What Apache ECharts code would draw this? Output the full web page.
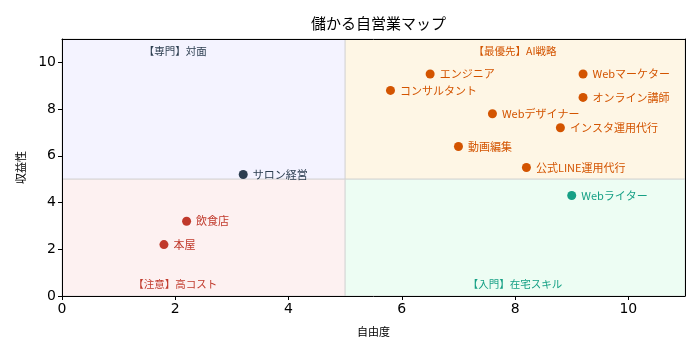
<!DOCTYPE html>
<html><head><meta charset="utf-8">
<script src="https://cdn.jsdelivr.net/npm/echarts@6/dist/echarts.min.js"></script>
<style>html,body{margin:0;padding:0;background:#fff}#c{width:700px;height:356px}</style>
</head><body><div id="c"></div>
<script>
const names = ['サロン経営','飲食店','本屋','Webライター','エンジニア','コンサルタント','Webマーケター','オンライン講師','Webデザイナー','インスタ運用代行','動画編集','公式LINE運用代行'];
const freedom = [3.2,2.2,1.8,9.0,6.5,5.8,9.2,9.2,7.6,8.8,7.0,8.2];
const profit = [5.2,3.2,2.2,4.3,9.5,8.8,9.5,8.5,7.8,7.2,6.4,5.5];
const groups = ['対面','注意','注意','入門','AI','AI','AI','AI','AI','AI','AI','AI'];
const groupOrder = ['対面','注意','入門','AI'];
const groupColors = {'対面':'#2c3e50','注意':'#c0392b','入門':'#16a085','AI':'#d35400'};
const quadLabels = ['【専門】対面','【最優先】AI戦略','【注意】高コスト','【入門】在宅スキル'];
const quadLabelX = [2,8,2,8];
const quadLabelY = [10.5,10.5,0.5,0.5];
const quadLabelColors = ['#2c3e50','#d35400','#c0392b','#16a085'];
const xTicks = [0,2,4,6,8,10];
const yTicks = [0,2,4,6,8,10];

const font = '"Noto Sans CJK JP","DejaVu Sans",sans-serif';
const series = groupOrder.map(g => ({
  type:'scatter', symbolSize:9,
  itemStyle:{color:groupColors[g], opacity:1},
  label:{show:true, position:'right', distance:5, formatter:p=>p.data[2], color:groupColors[g], fontSize:11, fontFamily:font, opacity:1},
  data: names.map((n,i)=>[freedom[i],profit[i],n,groups[i]]).filter(d=>d[3]===g),
  z:5
}));
series.push({
  type:'scatter', symbolSize:0, silent:true,
  itemStyle:{opacity:1},
  data: quadLabels.map((t,i)=>({value:[quadLabelX[i],quadLabelY[i],t], label:{color:quadLabelColors[i]}})),
  label:{show:true, position:'inside', formatter:p=>p.data.value[2], fontSize:10.5, fontFamily:font},
  markArea:{silent:true, itemStyle:{borderWidth:0.8, borderColor:'#d0d0d0', opacity:1}, data:[
    [{coord:[0,5],itemStyle:{color:'#f4f3ff'}},{coord:[5,11]}],
    [{coord:[5,5],itemStyle:{color:'#fef6e5'}},{coord:[11,11]}],
    [{coord:[0,0],itemStyle:{color:'#fdf1f1'}},{coord:[5,5]}],
    [{coord:[5,0],itemStyle:{color:'#edfdf3'}},{coord:[11,5]}]
  ]},
  z:3
});

const chart = echarts.init(document.getElementById('c'));
chart.setOption({
  animation:false,
  title:{text:'儲かる自営業マップ', left:306, top:11, textStyle:{fontSize:15, fontWeight:'normal', color:'#000', fontFamily:font}},
  grid:{left:62, right:15, top:39, bottom:60},
  xAxis:[{type:'value', min:0, max:11, interval:2, name:'自由度', nameLocation:'middle', nameGap:30,
    nameTextStyle:{fontSize:11, color:'#000', fontFamily:font},
    axisLine:{show:true, onZero:false, lineStyle:{color:'#000'}}, axisTick:{show:true, length:4, customValues:xTicks, lineStyle:{color:'#000'}},
    axisLabel:{color:'#000', fontSize:14, fontFamily:'"DejaVu Sans"', customValues:xTicks, margin:6}, splitLine:{show:false}, z:10},
    {type:'value', position:'top', min:0, max:11, axisLine:{show:true, onZero:false, lineStyle:{color:'#000'}}, axisTick:{show:false}, axisLabel:{show:false}, splitLine:{show:false}, z:10}],
  yAxis:[{type:'value', min:0, max:11, interval:2, name:'収益性', nameLocation:'middle', nameGap:36,
    nameTextStyle:{fontSize:11, color:'#000', fontFamily:font},
    axisLine:{show:true, onZero:false, lineStyle:{color:'#000'}}, axisTick:{show:true, length:4, customValues:yTicks, lineStyle:{color:'#000'}},
    axisLabel:{color:'#000', fontSize:14, fontFamily:'"DejaVu Sans"', customValues:yTicks, margin:6}, splitLine:{show:false}, z:10},
    {type:'value', position:'right', min:0, max:11, axisLine:{show:true, onZero:false, lineStyle:{color:'#000'}}, axisTick:{show:false}, axisLabel:{show:false}, splitLine:{show:false}, z:10}],
  series: series
});
</script></body></html>
